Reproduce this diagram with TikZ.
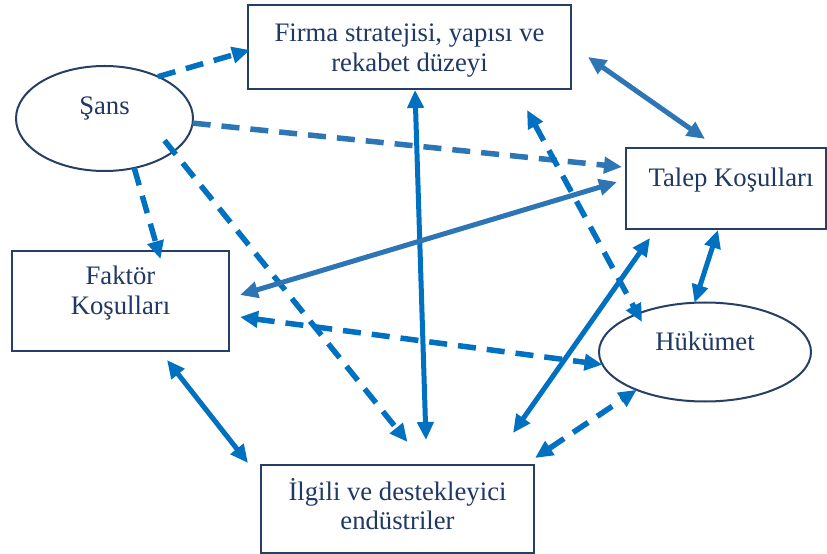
\documentclass[tikz,border=0pt]{standalone}
\usepackage{fontspec}
\setmainfont{Liberation Serif}
\usetikzlibrary{arrows.meta,calc,shapes.geometric}
\definecolor{bblue}{RGB}{0,112,192}
\definecolor{sblue}{RGB}{46,117,182}
\definecolor{navy}{RGB}{37,64,100}
\definecolor{txt}{RGB}{31,56,100}
\newcommand\twolines[2]{\vtop{\halign{\hfil##\hfil\cr#1\cr#2\cr}}}
\begin{document}
\begin{tikzpicture}[x=1bp,y=-1bp,
  lbl/.style={text=txt,font=\fontsize{26.8}{30}\selectfont,inner sep=0pt,outer sep=0pt},
  box/.style={lbl,draw=navy,line width=2bp,rectangle},
  oval/.style={lbl,draw=navy,line width=2bp,ellipse},
  tipA/.tip={Triangle[length=18bp,width=16bp]},
  one/.style={draw=bblue,line width=5bp,-tipA},
  both/.style={draw=bblue,line width=5bp,tipA-tipA},
  done/.style={one,line width=5.5bp,dash pattern=on 18bp off 11bp},
  dboth/.style={both,line width=5.5bp,dash pattern=on 18bp off 11bp}]
\fill[white] (0,0) rectangle (827,554);
\useasboundingbox (0,0) rectangle (827,554);
% nodes
\node[box,minimum width=323bp,minimum height=84bp,text height=10bp,text depth=20bp]
  (firma) at (409.5,47) {\twolines{Firma stratejisi, yapısı ve}{rekabet düzeyi}};
\node[box,minimum width=200bp,minimum height=81bp,text height=10bp,text depth=13bp]
  (talep) at (726,188.5) {\hspace*{10bp}Talep Koşulları};
\node[box,minimum width=217bp,minimum height=100bp,text height=10bp,text depth=42bp]
  (faktor) at (120.5,301) {\twolines{Faktör}{Koşulları}};
\node[box,minimum width=273bp,minimum height=88bp,text height=10bp,text depth=28bp]
  (ilgili) at (397.5,509) {\twolines{İlgili ve destekleyici}{endüstriler}};
\node[oval,minimum width=177bp,minimum height=105bp,text height=10bp,text depth=17bp]
  (sans) at (104.5,118.5) {Şans};
\node[oval,minimum width=212bp,minimum height=99bp,text height=10bp,text depth=14bp]
  (hukumet) at (705,352) {Hükümet};
% connectors
\draw[done] (sans.38) -- ($(firma.west)+(2,3)$);
\draw[done,draw=sblue] (sans.-3) -- ($(talep.west)+(-4,-21.5)$);
\draw[done] (sans.-59) -- ($(faktor.north)+(40,8)$);
\draw[done] ($(sans.center)+(60,22)$) -- ($(ilgili.north)+(10,-23)$);
\draw[both] ($(firma.south)+(5.5,1)$) -- ($(ilgili.north)+(28.5,-25)$);
\draw[both,draw=sblue] ($(firma.east)+(17,10)$) -- ($(talep.north)+(-21,-9)$);
\draw[dboth] ($(firma.south)+(117.5,21)$) -- ($(hukumet.center)+(-63,-30)$);
\draw[both,draw=sblue] ($(talep.west)+(-9,-6.5)$) -- ($(faktor.east)+(11,-6)$);
\draw[dboth] ($(faktor.east)+(11,16)$) -- (hukumet.187);
\draw[both] ($(faktor.south)+(46.5,9)$) -- ($(ilgili.west)+(-13,-46)$);
\draw[both] ($(ilgili.north)+(115.5,-32)$) -- ($(talep.south)+(-76,9)$);
\draw[both] ($(talep.south)+(-8,1)$) -- (hukumet.102);
\draw[dboth] ($(ilgili.north east)+(1,-7)$) -- (hukumet.209);
\end{tikzpicture}
\end{document}
